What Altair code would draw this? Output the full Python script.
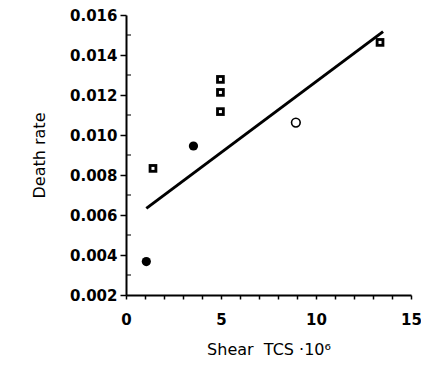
import altair as alt
import pandas as pd

# Data
sq_x = [1.42, 4.97, 4.97, 4.97, 13.37]
sq_y = [0.00833, 0.01278, 0.01213, 0.01117, 0.01463]
fc_x = [1.07, 3.55]
fc_y = [0.00367, 0.00945]
oc_x = [8.94]
oc_y = [0.01062]
line_x = [1.07, 13.53]
line_y = [0.00633, 0.01517]

y_major = [0.002, 0.004, 0.006, 0.008, 0.010, 0.012, 0.014, 0.016]
y_minor = [0.003, 0.005, 0.007, 0.009, 0.011, 0.013, 0.015]
x_ticks = list(range(0, 16))

sq = pd.DataFrame({"x": sq_x, "y": sq_y})
fc = pd.DataFrame({"x": fc_x, "y": fc_y})
oc = pd.DataFrame({"x": oc_x, "y": oc_y})
ln = pd.DataFrame({"x": line_x, "y": line_y})
mn = pd.DataFrame({"y": y_minor})

FONT = "DejaVu Sans"

xs = alt.Scale(domain=[0, 15], nice=False, zero=False)
ys = alt.Scale(domain=[0.002, 0.016], nice=False, zero=False)

x_axis = alt.Axis(values=x_ticks, labelExpr="datum.value % 5 == 0 ? datum.label : ''",
                  title="Shear\u00a0 TCS ·10⁶", tickSize=4, tickWidth=1.5,
                  labelOverlap=False, labelFlush=False, labelBound=False,
                  labelFont=FONT, labelFontWeight="bold", labelFontSize=15,
                  labelPadding=13, titleFont=FONT, titleFontWeight="normal",
                  titleFontSize=16, titlePadding=14, domainWidth=2, grid=False,
                  domainColor="black", tickColor="black", labelColor="black", titleColor="black")
y_axis = alt.Axis(values=y_major, format=".3f", title="Death rate", tickSize=6,
                  tickWidth=1.5, labelOverlap=False, labelFlush=False, labelBound=False,
                  labelFont=FONT, labelFontWeight="bold", labelFontSize=15,
                  labelPadding=3, titleFont=FONT, titleFontWeight="normal", titleFontSize=16,
                  titlePadding=22, domainWidth=2, grid=False,
                  domainColor="black", tickColor="black", labelColor="black", titleColor="black")

X = alt.X("x:Q", scale=xs, axis=x_axis)
Y = alt.Y("y:Q", scale=ys, axis=y_axis)

line = alt.Chart(ln).mark_line(color="black", strokeWidth=3).encode(x=X, y=Y)
minor = alt.Chart(mn).mark_tick(color="black", thickness=1.5, size=5, orient="horizontal").encode(
    x=alt.value(2.5), y=Y)
sq_outer = alt.Chart(sq).mark_square(color="black", opacity=1, size=75).encode(x=X, y=Y)
sq_inner = alt.Chart(sq).mark_square(color="white", opacity=1, size=9).encode(x=X, y=Y)
filled = alt.Chart(fc).mark_circle(color="black", opacity=1, size=85).encode(x=X, y=Y)
opened = alt.Chart(oc).mark_point(shape="circle", color="black", filled=False,
                                  strokeWidth=1.6, size=75, opacity=1).encode(x=X, y=Y)

chart = alt.layer(line, minor, sq_outer, sq_inner, filled, opened).properties(
    width=285, height=280,
    autosize=alt.AutoSizeParams(type="none"),
    padding={"left": 118, "top": 7, "right": 10, "bottom": 64},
    background="white",
).configure_view(stroke=None).configure_axis(labelOverlap=False)

chart.save("out.html", embed_options={"renderer": "svg", "actions": False})
